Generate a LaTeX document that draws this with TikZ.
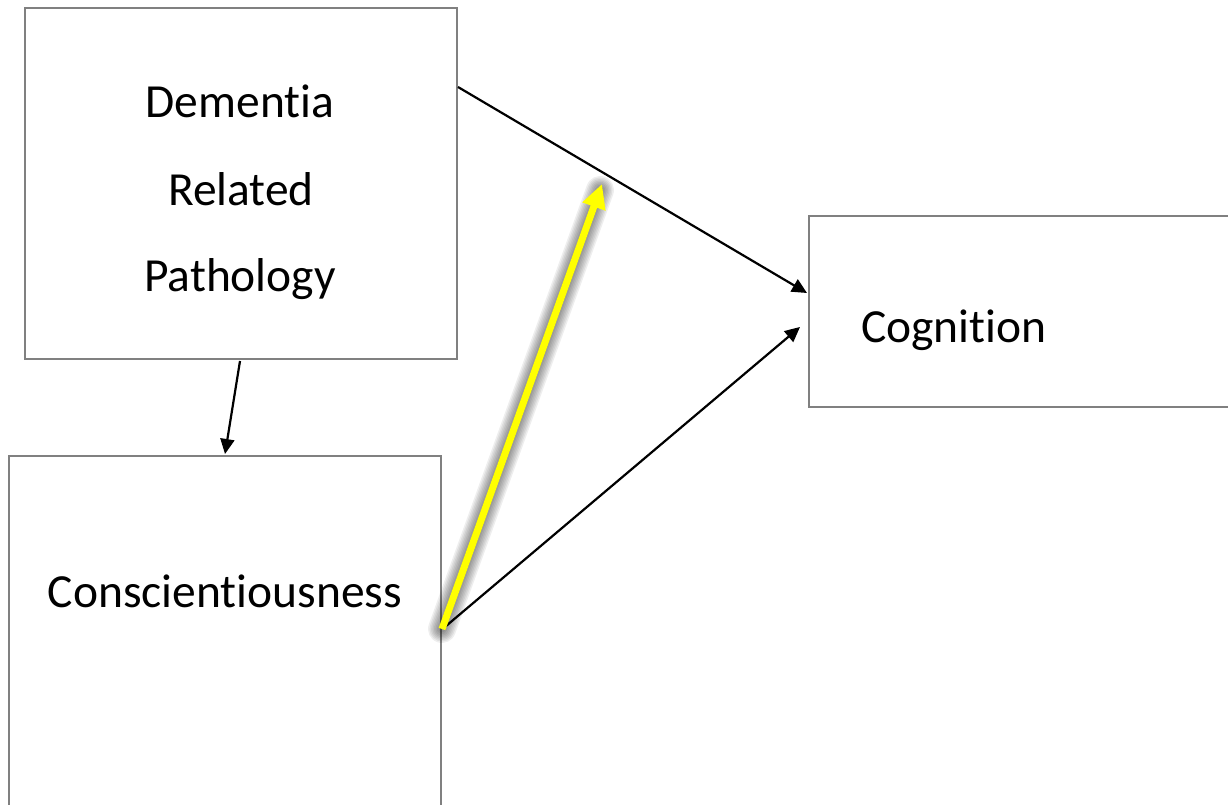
\documentclass[tikz,border=0pt]{standalone}
\usepackage{fontspec}
\setmainfont{Carlito}[RawFeature={-liga;-clig;-calt;-dlig}]
\usetikzlibrary{arrows.meta,calc}
\definecolor{boxgray}{HTML}{808080}
\definecolor{hilite}{HTML}{FFFF00}
% keeps t and i as separate glyphs
\newcommand{\tisep}{t\kern0pt i}
\begin{document}
\begin{tikzpicture}[x=1pt,y=-1pt,
  box/.style={draw=boxgray, line width=2pt, rectangle, inner sep=0pt, fill=white},
  lbl/.style={font=\fontsize{47.5}{47.5}\selectfont, inner sep=0pt, anchor=base},
  link/.style={line width=2.2pt, -{Triangle[length=15pt,width=14pt]}},
  hiarrow/.style={line width=7pt, draw=hilite, -{Triangle[length=24pt,width=23pt,fill=hilite]}},
  halo/.style={draw=black, line cap=round, opacity=0.065},
]
\useasboundingbox (0,0) rectangle (1228,804);
\clip (0,0) rectangle (1228,804);
\fill[white] (0,0) rectangle (1228,804);

% boxes (two of them run past the page edge)
\node[box, minimum width=432pt, minimum height=351pt] (dem) at (241,183.5) {};
\node[box, minimum width=432pt, minimum height=400pt] (con) at (225,656) {};
\node[box, minimum width=460pt, minimum height=191pt] (cog) at (1039,311.5) {};

% labels
\node[lbl] (t1) at (240,117) {Demen\tisep a};
\node[lbl] (t2) at (241,205) {Related};
\node[lbl] (t3) at (240,291) {Pathology};
\node[lbl] (t4) at (225,607) {Conscien\tisep ousness};
\node[lbl, anchor=base west] (t5) at (861,342) {Cogni\tisep on};

% connection points
\coordinate (demout) at ($(dem.north east)+(0,80)$);
\coordinate (cogin1) at ($(cog.north west)+(-1,78)$);
\coordinate (cogin2) at ($(cog.north west)+(-8,112)$);
\coordinate (conout) at ($(con.north east)+(4,171)$);
\coordinate (hibase) at ($(con.north east)+(0,174)$);
\coordinate (hitip) at (602,184);

% black paths
\draw[link] ($(dem.south)+(-1,1)$) -- ($(con.north)+(0,-1)$);
\draw[link] (demout) -- (cogin1);
\draw[link] (conout) -- (cogin2);

% soft shadow under the highlighted arrow
\foreach \w in {7,10,13,16,19,22,25,28} {
  \draw[halo, line width=\w pt, shift={(4,3)}] (hibase) -- ($(hitip)+(-2,6)$);
}
\draw[hiarrow] (hibase) -- (hitip);
\end{tikzpicture}
\end{document}
